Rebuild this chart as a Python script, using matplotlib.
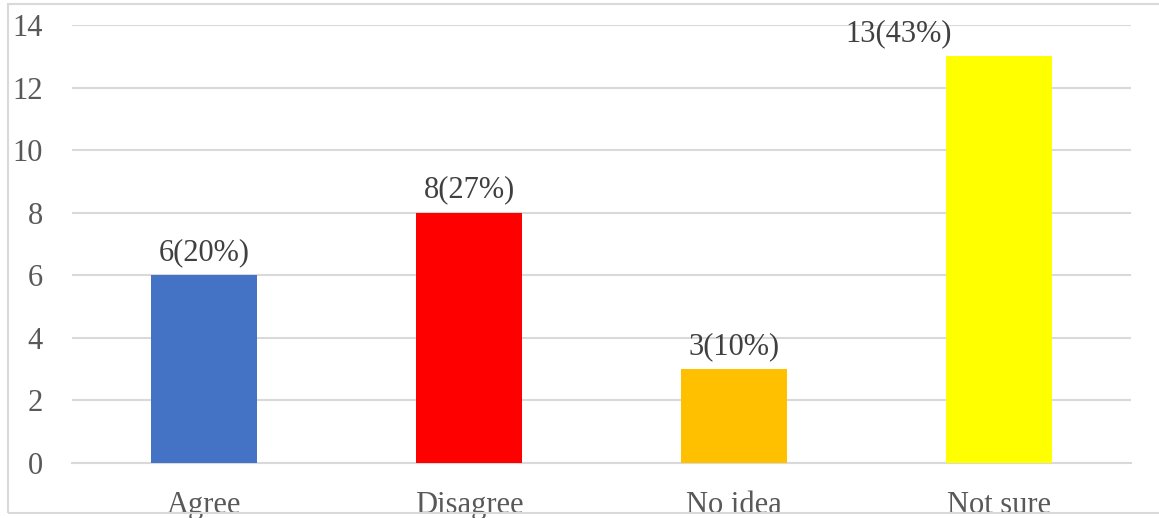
import matplotlib
matplotlib.use("Agg")
from matplotlib import pyplot as plt
from matplotlib.patches import Rectangle

categories = ["Agree", "Disagree", "No idea", "Not sure"]
counts = [6, 8, 3, 13]
labels = ["6(20%)", "8(27%)", "3(10%)", "13(43%)"]
colors = ["#4472c4", "#ff0000", "#ffc000", "#ffff00"]

plt.rcParams["font.family"] = ["Liberation Serif", "DejaVu Serif"]

fig = plt.figure(figsize=(11.59, 5.18), dpi=100)
ax = fig.add_axes([0.0621, 0.1062, 0.9137, 0.8455])

x = range(len(categories))
bars = ax.bar(x, counts, width=0.4, color=colors, zorder=3)

ax.set_xlim(-0.5, len(categories) - 0.5)
ax.set_ylim(0, 14)
ax.set_yticks(range(0, 15, 2))
ax.set_xticks(list(x))
ax.set_xticklabels(categories)
ax.grid(axis="y", color="#d9d9d9", linewidth=1.5, zorder=0)
ax.tick_params(axis="both", length=0, labelsize=22, labelcolor="#595959")
ax.tick_params(axis="x", pad=20)
ax.tick_params(axis="y", pad=21)
for s in ["left", "right", "top"]:
    ax.spines[s].set_visible(False)
ax.spines["bottom"].set_color("#d9d9d9")
ax.spines["bottom"].set_linewidth(1.5)

# data labels, the last one is pushed left like Excel does
for i, (b, lab) in enumerate(zip(bars, labels)):
    dx = -72 if i == len(bars) - 1 else 0
    ax.annotate(lab, (b.get_x() + b.get_width() / 2, b.get_height()),
                xytext=(dx, 6), textcoords="offset points",
                ha="center", va="bottom", fontsize=22, color="#404040")

# light frame around the chart
fig.patches.append(Rectangle((8 / 1159, 5 / 518), 1.0, 509 / 518,
                             transform=fig.transFigure, fill=False,
                             edgecolor="#d9d9d9", linewidth=1.5))

fig.savefig("out.png", dpi=100)
